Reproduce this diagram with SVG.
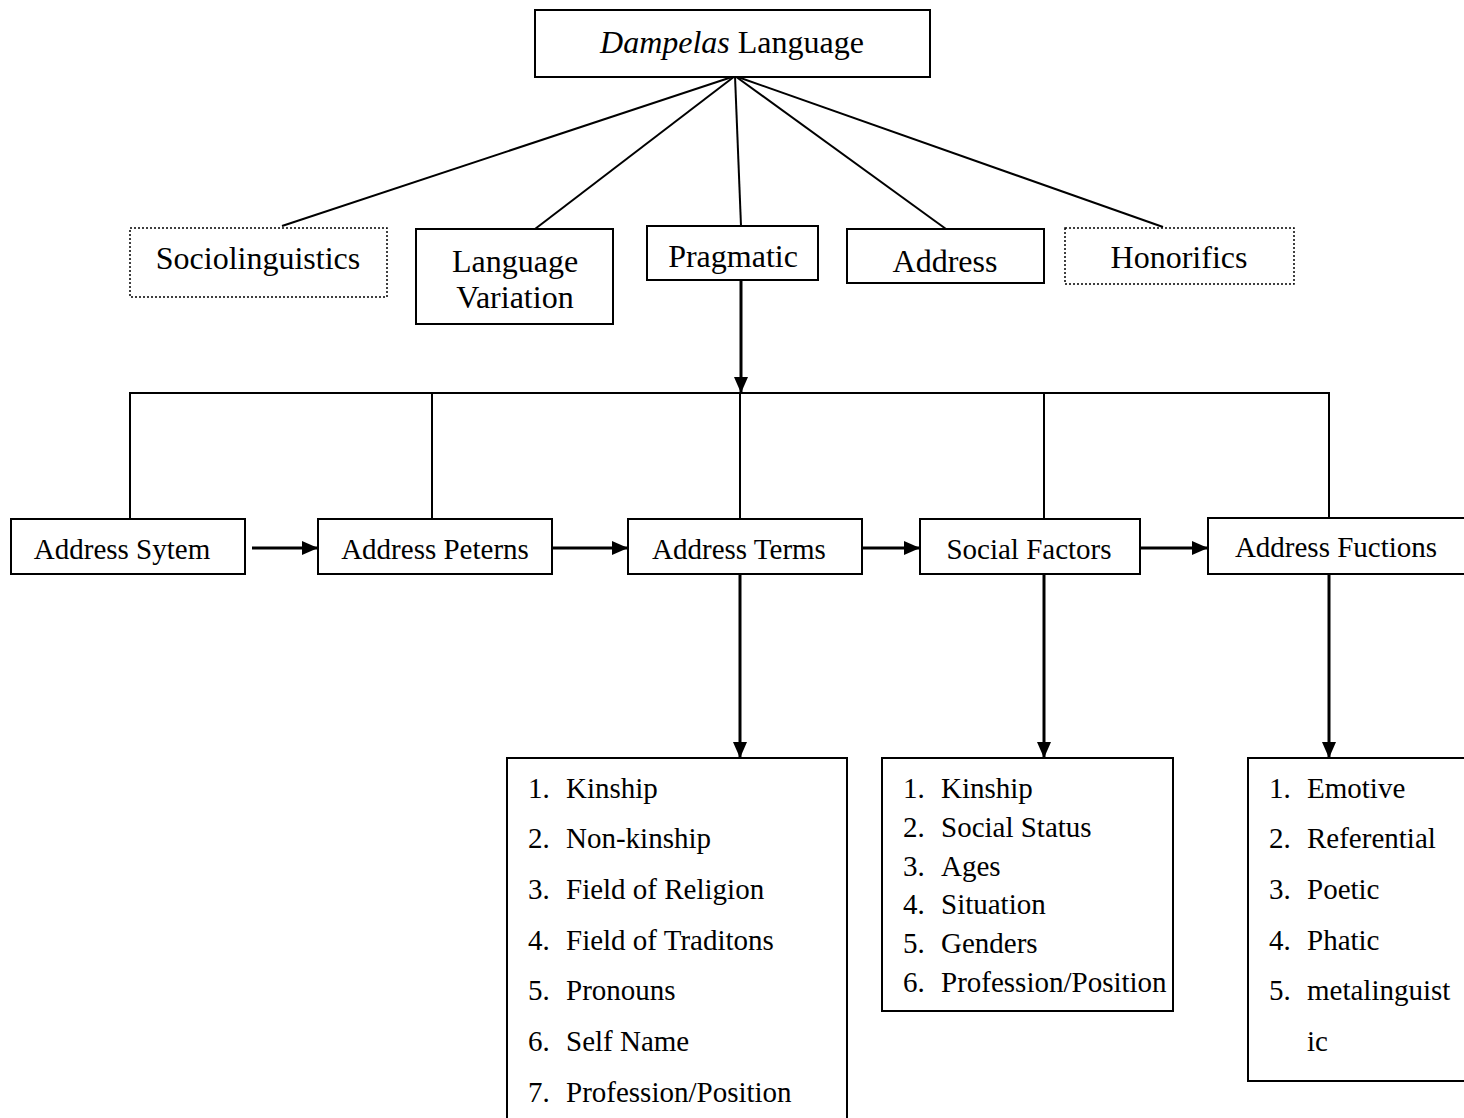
<svg xmlns="http://www.w3.org/2000/svg" width="1464" height="1118" viewBox="0 0 1464 1118" font-family="'Liberation Serif', 'Times New Roman', Times, serif">
<style>
.box{fill:#fff;stroke:#000;stroke-width:2}
.dot{fill:#fff;stroke:#000;stroke-width:1.5;stroke-dasharray:2 2}
.ln{stroke:#000;stroke-width:2;fill:none}
.th{stroke:#000;stroke-width:3;fill:none}
text{font-family:'Liberation Serif','Times New Roman',Times,serif;fill:#000}
.t{font-size:32px}
.m{font-size:29px}
.l{font-size:29px}
</style>
<defs>
<marker id="ah" markerWidth="16" markerHeight="14" refX="15" refY="7" orient="auto" markerUnits="userSpaceOnUse">
<path d="M0,0 L16,7 L0,14 Z" fill="#000"/>
</marker>
</defs>
<rect width="1464" height="1118" fill="#fff"/>
<g id="connectors">
<line class="ln" x1="735" y1="76" x2="282" y2="226"/>
<line class="ln" x1="735" y1="76" x2="535" y2="229"/>
<line class="ln" x1="735" y1="76" x2="741" y2="226"/>
<line class="ln" x1="735" y1="76" x2="946" y2="229"/>
<line class="ln" x1="735" y1="76" x2="1163" y2="227"/>
<line class="th" x1="741" y1="280" x2="741" y2="392" marker-end="url(#ah)"/>
<polyline class="ln" points="130,519 130,393 1329,393 1329,519"/>
<line class="ln" x1="432" y1="393" x2="432" y2="519"/>
<line class="ln" x1="740" y1="393" x2="740" y2="519"/>
<line class="ln" x1="1044" y1="393" x2="1044" y2="519"/>
<line class="th" x1="252" y1="548" x2="317" y2="548" marker-end="url(#ah)"/>
<line class="th" x1="553" y1="548" x2="627" y2="548" marker-end="url(#ah)"/>
<line class="th" x1="863" y1="548" x2="919" y2="548" marker-end="url(#ah)"/>
<line class="th" x1="1141" y1="548" x2="1207" y2="548" marker-end="url(#ah)"/>
<line class="th" x1="740" y1="574" x2="740" y2="757" marker-end="url(#ah)"/>
<line class="th" x1="1044" y1="574" x2="1044" y2="757" marker-end="url(#ah)"/>
<line class="th" x1="1329" y1="574" x2="1329" y2="757" marker-end="url(#ah)"/>
</g>
<g id="dampelas">
<rect class="box" x="535" y="10" width="395" height="67"/>
<text class="t" x="732" y="53" text-anchor="middle"><tspan font-style="italic">Dampelas</tspan> Language</text>
</g>
<g id="sociolinguistics">
<rect class="dot" x="130" y="228" width="257" height="69"/>
<text class="t" x="258" y="269" text-anchor="middle">Sociolinguistics</text>
</g>
<g id="language-variation">
<rect class="box" x="416" y="229" width="197" height="95"/>
<text class="t" x="515" y="272" text-anchor="middle">Language</text>
<text class="t" x="515" y="308" text-anchor="middle">Variation</text>
</g>
<g id="pragmatic">
<rect class="box" x="647" y="226" width="171" height="54"/>
<text class="t" x="733" y="267" text-anchor="middle">Pragmatic</text>
</g>
<g id="address">
<rect class="box" x="847" y="229" width="197" height="54"/>
<text class="t" x="945" y="272" text-anchor="middle">Address</text>
</g>
<g id="honorifics">
<rect class="dot" x="1065" y="228" width="229" height="56"/>
<text class="t" x="1179" y="268" text-anchor="middle">Honorifics</text>
</g>
<g id="address-sytem">
<rect class="box" x="11" y="519" width="234" height="55"/>
<text class="m" x="122" y="559" text-anchor="middle">Address Sytem</text>
</g>
<g id="address-peterns">
<rect class="box" x="318" y="519" width="234" height="55"/>
<text class="m" x="435" y="559" text-anchor="middle">Address Peterns</text>
</g>
<g id="address-terms">
<rect class="box" x="628" y="519" width="234" height="55"/>
<text class="m" x="739" y="559" text-anchor="middle">Address Terms</text>
</g>
<g id="social-factors">
<rect class="box" x="920" y="519" width="220" height="55"/>
<text class="m" x="1029" y="559" text-anchor="middle">Social Factors</text>
</g>
<g id="address-fuctions">
<rect class="box" x="1208" y="518" width="262" height="56"/>
<text class="m" x="1336" y="557" text-anchor="middle">Address Fuctions</text>
</g>
<g id="terms-list">
<path class="ln" d="M507,1120 V758 H847 V1120"/>
<text class="l" x="528" y="798">1.</text><text class="l" x="566" y="798">Kinship</text>
<text class="l" x="528" y="848">2.</text><text class="l" x="566" y="848">Non-kinship</text>
<text class="l" x="528" y="899">3.</text><text class="l" x="566" y="899">Field of Religion</text>
<text class="l" x="528" y="950">4.</text><text class="l" x="566" y="950">Field of Traditons</text>
<text class="l" x="528" y="1000">5.</text><text class="l" x="566" y="1000">Pronouns</text>
<text class="l" x="528" y="1051">6.</text><text class="l" x="566" y="1051">Self Name</text>
<text class="l" x="528" y="1102">7.</text><text class="l" x="566" y="1102">Profession/Position</text>
</g>
<g id="factors-list">
<rect class="box" x="882" y="758" width="291" height="253"/>
<text class="l" x="903" y="798">1.</text><text class="l" x="941" y="798">Kinship</text>
<text class="l" x="903" y="837">2.</text><text class="l" x="941" y="837">Social Status</text>
<text class="l" x="903" y="876">3.</text><text class="l" x="941" y="876">Ages</text>
<text class="l" x="903" y="914">4.</text><text class="l" x="941" y="914">Situation</text>
<text class="l" x="903" y="953">5.</text><text class="l" x="941" y="953">Genders</text>
<text class="l" x="903" y="992">6.</text><text class="l" x="941" y="992">Profession/Position</text>
</g>
<g id="functions-list">
<path class="ln" d="M1470,758 H1248 V1081 H1470"/>
<text class="l" x="1269" y="798">1.</text><text class="l" x="1307" y="798">Emotive</text>
<text class="l" x="1269" y="848">2.</text><text class="l" x="1307" y="848">Referential</text>
<text class="l" x="1269" y="899">3.</text><text class="l" x="1307" y="899">Poetic</text>
<text class="l" x="1269" y="950">4.</text><text class="l" x="1307" y="950">Phatic</text>
<text class="l" x="1269" y="1000">5.</text><text class="l" x="1307" y="1000">metalinguist</text>
<text class="l" x="1307" y="1051">ic</text>
</g>
</svg>
